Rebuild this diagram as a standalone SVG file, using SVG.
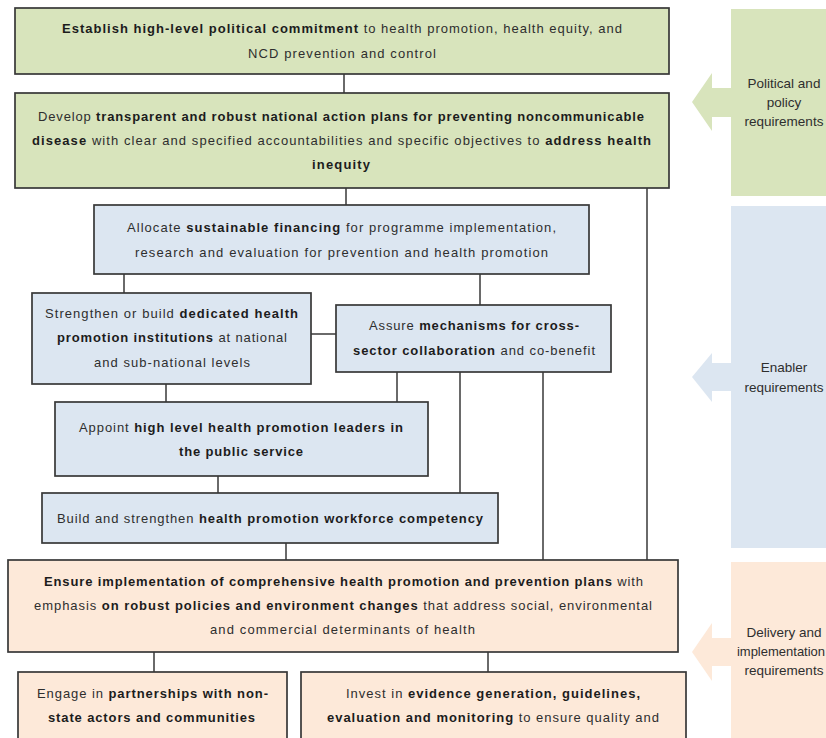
<svg xmlns="http://www.w3.org/2000/svg" width="826" height="738" viewBox="0 0 826 738">
<style>
.g{fill:#d8e4bc}.bl{fill:#dce6f1}.p{fill:#fde9d9}
.box{stroke:#383838;stroke-width:1.7}
.t{font-family:"Liberation Sans",Arial,sans-serif;font-size:13px;fill:#2e2e2e}
.b{font-weight:bold;fill:#1c1c1c}
.s{font-family:"Liberation Sans",Arial,sans-serif;font-size:13.5px;fill:#2e2e2e;text-anchor:middle}
.c{stroke:#3a3a3a;stroke-width:1.5;fill:none}
</style>
<rect width="826" height="738" fill="#ffffff"/>
<g id="side-political">
<rect class="g" x="731" y="9" width="100" height="187"/>
<polygon class="g" points="692,102 712,73 712,88 731,88 731,117 712,117 712,131"/>
<text class="s"><tspan x="784" y="88">Political and</tspan><tspan x="784" y="107">policy</tspan><tspan x="784" y="126">requirements</tspan></text>
</g>
<g id="side-enabler">
<rect class="bl" x="731" y="206" width="100" height="342"/>
<polygon class="bl" points="692,377 712,353 712,363 731,363 731,391 712,391 712,402"/>
<text class="s"><tspan x="784" y="372">Enabler</tspan><tspan x="784" y="392">requirements</tspan></text>
</g>
<g id="side-delivery">
<rect class="p" x="731" y="562" width="100" height="180"/>
<polygon class="p" points="692,652 712,623 712,638 731,638 731,666 712,666 712,681"/>
<text class="s"><tspan x="784" y="637">Delivery and</tspan><tspan x="781" y="656" style="font-size:13px">implementation</tspan><tspan x="784" y="675">requirements</tspan></text>
</g>
<g id="connectors">
<path class="c" d="M344,74V93 M346,188V205 M647,188V560 M124,274V293 M480,274V305 M311,334H336 M166,384V402 M397,372V402 M460,372V493 M543,372V560 M218,476V493 M286,543V560 M154,652V672 M488,652V672"/>
</g>
<g id="n1">
<rect class="g box" x="15" y="8" width="654" height="66"/>
<text class="t" x="62" y="33" textLength="560" lengthAdjust="spacing"><tspan class="b">Establish high-level political commitment</tspan> to health promotion, health equity, and</text>
<text class="t" x="248" y="58" textLength="188" lengthAdjust="spacing">NCD prevention and control</text>
</g>
<g id="n2">
<rect class="g box" x="15" y="93" width="654" height="95"/>
<text class="t" x="38" y="121" textLength="606" lengthAdjust="spacing">Develop <tspan class="b">transparent and robust national action plans for preventing noncommunicable</tspan></text>
<text class="t" x="32" y="145" textLength="619" lengthAdjust="spacing"><tspan class="b">disease</tspan> with clear and specified accountabilities and specific objectives to <tspan class="b">address health</tspan></text>
<text class="t b" x="312" y="169" textLength="58" lengthAdjust="spacing">inequity</text>
</g>
<g id="n3">
<rect class="bl box" x="94" y="205" width="495" height="69"/>
<text class="t" x="127" y="232" textLength="429" lengthAdjust="spacing">Allocate <tspan class="b">sustainable financing</tspan> for programme implementation,</text>
<text class="t" x="135" y="257" textLength="413" lengthAdjust="spacing">research and evaluation for prevention and health promotion</text>
</g>
<g id="n4">
<rect class="bl box" x="32" y="293" width="279" height="91"/>
<text class="t" x="45" y="318" textLength="253" lengthAdjust="spacing">Strengthen or build <tspan class="b">dedicated health</tspan></text>
<text class="t" x="57" y="342" textLength="230" lengthAdjust="spacing"><tspan class="b">promotion institutions</tspan> at national</text>
<text class="t" x="94" y="367" textLength="156" lengthAdjust="spacing">and sub-national levels</text>
</g>
<g id="n5">
<rect class="bl box" x="336" y="305" width="275" height="67"/>
<text class="t" x="369" y="330" textLength="210" lengthAdjust="spacing">Assure <tspan class="b">mechanisms for cross-</tspan></text>
<text class="t" x="353" y="355" textLength="242" lengthAdjust="spacing"><tspan class="b">sector collaboration</tspan> and co-benefit</text>
</g>
<g id="n6">
<rect class="bl box" x="55" y="402" width="373" height="74"/>
<text class="t" x="79" y="432" textLength="324" lengthAdjust="spacing">Appoint <tspan class="b">high level health promotion leaders in</tspan></text>
<text class="t b" x="179" y="456" textLength="124" lengthAdjust="spacing">the public service</text>
</g>
<g id="n7">
<rect class="bl box" x="42" y="493" width="456" height="50"/>
<text class="t" x="57" y="523" textLength="426" lengthAdjust="spacing">Build and strengthen <tspan class="b">health promotion workforce competency</tspan></text>
</g>
<g id="n8">
<rect class="p box" x="8" y="560" width="670" height="92"/>
<text class="t" x="44" y="586" textLength="599" lengthAdjust="spacing"><tspan class="b">Ensure implementation of comprehensive health promotion and prevention plans</tspan> with</text>
<text class="t" x="34" y="610" textLength="618" lengthAdjust="spacing">emphasis <tspan class="b">on robust policies and environment changes</tspan> that address social, environmental</text>
<text class="t" x="210" y="634" textLength="265" lengthAdjust="spacing">and commercial determinants of health</text>
</g>
<g id="n9">
<rect class="p box" x="18" y="672" width="269" height="80"/>
<text class="t" x="37" y="698" textLength="231" lengthAdjust="spacing">Engage in <tspan class="b">partnerships with non-</tspan></text>
<text class="t b" x="48" y="722" textLength="207" lengthAdjust="spacing">state actors and communities</text>
</g>
<g id="n10">
<rect class="p box" x="301" y="672" width="385" height="80"/>
<text class="t" x="346" y="698" textLength="294" lengthAdjust="spacing">Invest in <tspan class="b">evidence generation, guidelines,</tspan></text>
<text class="t" x="327" y="722" textLength="332" lengthAdjust="spacing"><tspan class="b">evaluation and monitoring</tspan> to ensure quality and</text>
</g>
</svg>
